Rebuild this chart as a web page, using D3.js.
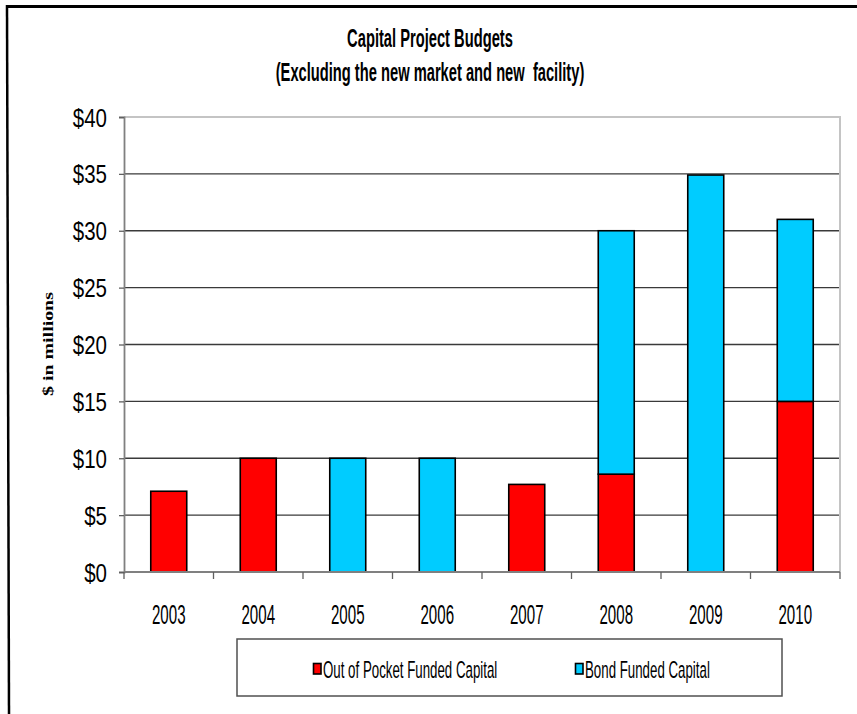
<!DOCTYPE html>
<html>
<head>
<meta charset="utf-8">
<script src="https://cdn.jsdelivr.net/npm/d3@7"></script>
<style>
  html, body { margin: 0; padding: 0; background: #fff; }
  svg { display: block; }
  .sans { font-family: "Liberation Sans", Arial, sans-serif; white-space: pre; }
</style>
</head>
<body>
<script>
// Capital project budgets by year, $ millions
const years = ["2003", "2004", "2005", "2006", "2007", "2008", "2009", "2010"];
const outOfPocket = [7.1, 10, 0, 0, 7.7, 8.6, 0, 15];
const bondFunded = [0, 0, 10, 10, 0, 21.4, 34.9, 16];
const seriesNames = ["Out of Pocket Funded Capital", "Bond Funded Capital"];
const seriesColors = ["#FF0000", "#00CCFF"];
const yTicks = [0, 5, 10, 15, 20, 25, 30, 35, 40];
const titleLines = ["Capital Project Budgets", "(Excluding the new market and new  facility)"];
const yTitle = "$ in millions";

const W = 857, H = 714;
const plot = { left: 124, right: 840, top: 117, bottom: 572 };

const svg = d3.select("body").append("svg").attr("width", W).attr("height", H);

// outer frame (top and left edges)
svg.append("line").attr("x1", 6).attr("x2", W).attr("y1", 6.5).attr("y2", 6.5)
  .attr("stroke", "#000").attr("stroke-width", 3);
svg.append("line").attr("x1", 7).attr("x2", 9).attr("y1", 5).attr("y2", H)
  .attr("stroke", "#000").attr("stroke-width", 2.5);

const x = d3.scaleBand().domain(years).range([plot.left, plot.right])
  .paddingInner(0.598).paddingOuter(0.299);
const xCat = d3.scaleBand().domain(years).range([plot.left, plot.right]).padding(0);
const y = d3.scaleLinear().domain([0, 40]).range([plot.bottom, plot.top]);

// gridlines
svg.append("g").selectAll("line").data(yTicks.filter(v => v > 0 && v < 40)).join("line")
  .attr("x1", plot.left).attr("x2", plot.right)
  .attr("y1", d => y(d)).attr("y2", d => y(d))
  .attr("stroke", "#3a3a3a").attr("stroke-width", 1.3);

// plot area top/right border
svg.append("path")
  .attr("d", `M${plot.left},${y(40)}H${plot.right}V${plot.bottom}`)
  .attr("fill", "none").attr("stroke", "#c4c4c4").attr("stroke-width", 2);

// stacked bars
const rows = years.map((yr, i) => ({ year: yr, oop: outOfPocket[i], bond: bondFunded[i] }));
const stack = d3.stack().keys(["oop", "bond"])(rows);
svg.append("g").selectAll("g").data(stack).join("g")
  .attr("fill", (d, i) => seriesColors[i])
  .selectAll("rect").data(d => d.filter(s => s[1] - s[0] > 0)).join("rect")
  .attr("x", d => x(d.data.year))
  .attr("width", x.bandwidth())
  .attr("y", d => y(d[1]))
  .attr("height", d => y(d[0]) - y(d[1]))
  .attr("stroke", "#000").attr("stroke-width", 1.6);

// y axis
const yAxis = svg.append("g").attr("transform", `translate(${plot.left},0)`)
  .call(d3.axisLeft(y).tickValues(yTicks).tickSize(5).tickPadding(0).tickFormat(d => "$" + d));
yAxis.select(".domain").attr("stroke", "#808080").attr("stroke-width", 1.8);
yAxis.selectAll(".tick line").attr("stroke", "#606060").attr("stroke-width", 1.3);
yAxis.selectAll(".tick text")
  .attr("class", "sans").attr("font-size", 20.5).attr("fill", "#000")
  .attr("x", null).attr("dy", null)
  .attr("transform", "translate(-17,9) scale(1,1.22)");

// x axis baseline and category boundary ticks
svg.append("line").attr("x1", plot.left).attr("x2", plot.right)
  .attr("y1", plot.bottom).attr("y2", plot.bottom)
  .attr("stroke", "#808080").attr("stroke-width", 1.8);
const bounds = years.map(d => xCat(d)).concat([xCat(years[years.length - 1]) + xCat.bandwidth()]);
svg.append("g").selectAll("line").data(bounds).join("line")
  .attr("x1", d => d).attr("x2", d => d)
  .attr("y1", plot.bottom).attr("y2", plot.bottom + 7)
  .attr("stroke", "#606060").attr("stroke-width", 1.3);
svg.append("g").selectAll("text").data(years).join("text")
  .attr("class", "sans").attr("font-size", 15.1).attr("text-anchor", "middle")
  .attr("transform", d => `translate(${xCat(d) + xCat.bandwidth() / 2},624) scale(1,1.78)`)
  .text(d => d);

// titles
svg.append("g").selectAll("text").data(titleLines).join("text")
  .attr("class", "sans").attr("font-size", 14.7).attr("font-weight", "bold")
  .attr("text-anchor", "middle")
  .attr("transform", (d, i) => `translate(430,${47 + i * 34}) scale(1,1.72)`)
  .text(d => d);

// y axis title
svg.append("text")
  .attr("font-family", "'Liberation Serif', 'Times New Roman', serif")
  .attr("font-weight", "bold").attr("font-size", 14).attr("text-anchor", "middle")
  .attr("transform", "translate(53,344) rotate(-90) scale(1.42,1)")
  .text(yTitle);

// legend
const lg = svg.append("g");
lg.append("rect").attr("x", 237).attr("y", 639).attr("width", 545).attr("height", 57)
  .attr("fill", "#fff").attr("stroke", "#505050").attr("stroke-width", 1.5);
const legendX = [313, 575];
const items = lg.selectAll("g").data(seriesNames).join("g")
  .attr("transform", (d, i) => `translate(${legendX[i]},0)`);
items.append("rect").attr("x", 0.5).attr("y", 663.5).attr("width", 7.5).attr("height", 10.5)
  .attr("fill", (d, i) => seriesColors[i]).attr("stroke", "#000").attr("stroke-width", 1.6);
items.append("text").attr("class", "sans").attr("font-size", 13.3)
  .attr("transform", "translate(10,677.5) scale(1,1.75)")
  .text(d => d);
</script>
</body>
</html>
